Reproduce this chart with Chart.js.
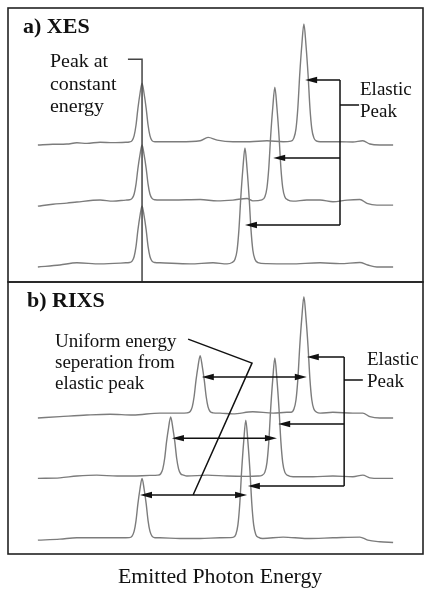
<!DOCTYPE html>
<html><head><meta charset="utf-8">
<script src="https://cdn.jsdelivr.net/npm/chart.js@4.4.1/dist/chart.umd.min.js"></script>
<style>
html,body{margin:0;padding:0;background:#fff;}
#wrap{position:relative;width:430px;height:590px;overflow:hidden;font-family:"Liberation Serif","Times New Roman",serif;color:#111;}
#wrap canvas{position:absolute;left:0;}
.t{position:absolute;white-space:nowrap;transform-origin:0 0;}
</style></head><body>
<div id="wrap">
<canvas id="cA" width="430" height="290" style="top:0px"></canvas>
<canvas id="cB" width="430" height="315" style="top:275px"></canvas>
<div class="t" style="left:23px;top:14.6px;font-size:22px;line-height:22px;font-weight:bold">a) XES</div>
<div class="t" style="left:50px;top:50.3px;font-size:19px;line-height:22.5px;transform:scaleX(1.05)">Peak at<br>constant<br>energy</div>
<div class="t" style="left:360px;top:77.6px;font-size:19px;line-height:22px">Elastic<br>Peak</div>
<div class="t" style="left:27px;top:288.6px;font-size:22px;line-height:22px;font-weight:bold">b) RIXS</div>
<div class="t" style="left:55px;top:330.1px;font-size:19px;line-height:21px">Uniform energy<br>seperation from<br>elastic peak</div>
<div class="t" style="left:367px;top:347.8px;font-size:19px;line-height:22.5px">Elastic<br>Peak</div>
<div class="t" style="left:118px;top:566px;font-size:20px;line-height:20px;transform:scaleX(1.09)">Emitted Photon Energy</div>
</div>
<script>
// ---- Panel a) XES : three stacked spectra (energy in arb. units, intensity in arb. units)
const energyA1 = [7.2,10.8,14.2,16.6,19.0,22.2,25.3,28.4, 29.2,29.9,30.4,30.85,31.3,31.8,32.3,32.8,33.3,33.75,34.2,34.7,35.4, 36.6,41.4,46.3,48.2,50.4,54.2,58.3,62.4,66.3, 68.2,68.9,69.4,69.85,70.3,70.8,71.3,71.8,72.3,72.75,73.2,73.7,74.4, 75.2,80.0,83.1,85.5,87.2,89.6,92.8];
const intensityA1 = [0,0.25,0.35,0.8,0.6,1.0,0.85,1.0, 1.1,1.6,3.4,7.3,13.3,18.7,22.6,18.7,13.3,7.3,3.4,1.6,1.2, 1.2,1.2,1.55,2.8,1.8,1.2,1.2,1.55,1.2, 1.4,2.6,6.0,13.7,25.8,36.5,44.2,36.5,25.8,13.7,6.0,2.6,1.4, 1.2,1.2,1.1,1.55,0.35,0,0];
const energyA2 = [7.2,10.8,14.2,16.6,22.2,25.3,28.4, 29.2,29.9,30.4,30.85,31.3,31.8,32.3,32.8,33.3,33.75,34.2,34.7,35.4, 36.6,39.8,46.3,50.4,54.2,57.6,59.0, 61.2,61.9,62.4,62.85,63.3,63.8,64.3,64.8,65.3,65.75,66.2,66.7,67.4, 68.7,72.0,75.2,78.3,81.7,84.8,86.5,88.9,92.8];
const intensityA2 = [0,0.7,1.1,1.5,2.2,1.8,2.2, 2.3,2.8,4.4,8.0,13.7,18.7,22.3,18.7,13.7,8.0,4.4,2.8,2.3, 2.2,2.2,2.4,1.9,2.2,2.8,1.9, 2.3,3.4,6.7,14.1,25.7,36.0,43.4,36.0,25.7,14.1,6.7,3.4,2.3, 1.8,2.2,2.2,1.6,2.2,2.4,1.0,0.35,0.35];
const energyA3 = [7.2,12.5,16.6,22.2,28.4, 29.2,29.9,30.4,30.85,31.3,31.8,32.3,32.8,33.3,33.75,34.2,34.7,35.4, 36.6,43.9,49.4,52.8, 54.0,54.7,55.2,55.65,56.1,56.6,57.1,57.6,58.1,58.55,59.0,59.5,60.2, 62.4,68.0,75.2,80.0,84.8,86.7,88.9,92.8];
const intensityA3 = [0,0.7,1.5,1.1,1.5, 1.6,2.1,3.8,7.5,13.4,18.6,22.3,18.6,13.4,7.5,3.8,2.1,1.6, 1.5,1.1,1.5,1.1, 1.6,2.8,6.1,13.7,25.4,35.9,43.4,35.9,25.4,13.7,6.1,2.8,1.6, 1.2,1.1,1.5,1.2,1.6,0.7,0,0];
const stackOffsetsA = [50.0, 27.7, 5.5];

// ---- Panel b) RIXS
const energyB1 = [7.2,12.5,19.0,24.6,30.1,36.6,41.4, 43.2,43.9,44.4,44.85,45.3,45.8,46.3,46.8,47.3,47.75,48.2,48.7,49.4, 51.1,54.2,59.0,63.9,67.2, 68.2,68.9,69.4,69.85,70.3,70.8,71.3,71.8,72.3,72.75,73.2,73.7,74.4, 75.2,78.3,83.1,85.5,87.2,89.6,92.8];
const intensityB1 = [0,0.5,1.1,1.4,1.1,1.8,1.8, 1.9,2.4,4.1,7.9,13.8,19.1,22.9,19.1,13.8,7.9,4.1,2.4,1.9, 1.8,1.5,2.3,1.8,2.1, 2.1,3.3,6.7,14.4,26.3,36.9,44.6,36.9,26.3,14.4,6.7,3.3,2.1, 1.8,2.1,1.8,1.8,0.5,0,0];
const energyB2 = [7.2,12.5,16.6,21.4,26.3,30.1,34.2, 36.1,36.8,37.3,37.75,38.2,38.7,39.2,39.7,40.2,40.65,41.1,41.6,42.3, 43.1,48.0,52.8,57.6,60.2, 61.2,61.9,62.4,62.85,63.3,63.8,64.3,64.8,65.3,65.75,66.2,66.7,67.4, 68.7,73.5,78.3,83.1,85.5,87.2,89.6,92.8];
const intensityB2 = [0,0.2,0.85,1.2,0.85,0.85,1.1, 1.2,1.7,3.5,7.3,13.4,18.7,22.6,18.7,13.4,7.3,3.5,1.7,1.2, 0.85,1.2,0.85,0.75,0.85, 1.1,2.3,5.8,13.6,25.7,36.5,44.3,36.5,25.7,13.6,5.8,2.3,1.1, 0.6,0.6,0.85,0.6,1.2,0.2,0,0];
const energyB3 = [7.2,12.5,16.6,22.2,28.4, 29.2,29.9,30.4,30.85,31.3,31.8,32.3,32.8,33.3,33.75,34.2,34.7,35.4, 36.6,41.4,46.3,51.1, 54.2,54.9,55.4,55.85,56.3,56.8,57.3,57.8,58.3,58.75,59.2,59.7,60.4, 61.4,66.3,72.0,78.3,84.8,86.7,89.6,92.8];
const intensityB3 = [0,0.35,0.85,0.85,0.85, 0.9,1.5,3.3,7.2,13.3,18.8,22.7,18.8,13.3,7.2,3.3,1.5,0.9, 0.85,0.6,0.6,0.85, 1.0,2.1,5.6,13.4,25.5,36.3,44.1,36.3,25.5,13.4,5.6,2.1,1.0, 0.6,1.1,0.6,0.85,1.1,0,-0.6,-0.85];
const stackOffsetsB = [50.0, 27.8, 5.1];

// ---- annotation anchors (data units)
const constantPeakEnergy = 32.3;
const constantLeader = {fromX: 28.9, y: 81.3};
const elasticBracketA = {x: 80.0, tickY: 64.6, tickToX: 84.6};
const elasticArrowsA = [[71.6, 73.7], [63.9, 45.3], [57.1, 20.8]];   // [tip energy, level]
const elasticBracketB = {x: 81.0, tickY: 64.0, tickToX: 85.5};
const elasticArrowsB = [[72.0, 72.4], [65.1, 47.8], [57.8, 25.0]];
const separationArrowsB = [[46.7, 72.0, 65.1], [39.5, 64.8, 42.6], [31.8, 57.6, 21.7]]; // [from, to, level]
const separationPointer = [[43.4, 79.0], [58.8, 70.2], [44.6, 21.7]];

const traceColor = '#7c7c7c';

function makeSets(energies, intensities, offsets){
  return energies.map((e, i) => ({
    data: e.map((x, k) => ({x, y: offsets[i] + intensities[i][k]})),
    borderColor: traceColor, borderWidth: 1.4, pointRadius: 0,
    cubicInterpolationMode: 'monotone', fill: false
  }));
}

function arrowHead(ctx, x, y, dir){
  const len = 12, hw = 3.2;
  ctx.beginPath();
  ctx.moveTo(x, y);
  ctx.lineTo(x - dir*len, y - hw);
  ctx.lineTo(x - dir*len, y + hw);
  ctx.closePath();
  ctx.fill();
}

const framePlugin = {
  id: 'frame',
  afterDraw(chart){
    const {ctx, chartArea: a} = chart;
    ctx.save();
    ctx.strokeStyle = '#222'; ctx.lineWidth = 1.6;
    ctx.strokeRect(a.left, a.top, a.right - a.left, a.bottom - a.top);
    ctx.restore();
  }
};

function bracket(ctx, px, py, br, arrows){
  ctx.beginPath();
  ctx.moveTo(px(br.x), py(arrows[0][1]));
  ctx.lineTo(px(br.x), py(arrows[arrows.length-1][1]));
  ctx.moveTo(px(br.x), py(br.tickY));
  ctx.lineTo(px(br.tickToX), py(br.tickY));
  arrows.forEach(([tx, ly]) => { ctx.moveTo(px(br.x), py(ly)); ctx.lineTo(px(tx) + 4, py(ly)); });
  ctx.stroke();
  arrows.forEach(([tx, ly]) => arrowHead(ctx, px(tx), py(ly), -1));
}

const annotateA = {
  id: 'annotateA',
  afterDatasetsDraw(chart){
    const {ctx, scales: {x, y}} = chart;
    const px = v => x.getPixelForValue(v), py = v => y.getPixelForValue(v);
    ctx.save();
    ctx.strokeStyle = '#444'; ctx.lineWidth = 1.5;
    ctx.beginPath();
    ctx.moveTo(px(constantLeader.fromX), py(constantLeader.y));
    ctx.lineTo(px(constantPeakEnergy), py(constantLeader.y));
    ctx.lineTo(px(constantPeakEnergy), py(0));
    ctx.stroke();
    ctx.strokeStyle = '#111'; ctx.fillStyle = '#111'; ctx.lineWidth = 1.5;
    bracket(ctx, px, py, elasticBracketA, elasticArrowsA);
    ctx.restore();
  }
};

const annotateB = {
  id: 'annotateB',
  afterDatasetsDraw(chart){
    const {ctx, scales: {x, y}} = chart;
    const px = v => x.getPixelForValue(v), py = v => y.getPixelForValue(v);
    ctx.save();
    ctx.strokeStyle = '#111'; ctx.fillStyle = '#111'; ctx.lineWidth = 1.5;
    ctx.beginPath();
    separationArrowsB.forEach(([a, b, l]) => { ctx.moveTo(px(a) + 4, py(l)); ctx.lineTo(px(b) - 4, py(l)); });
    separationPointer.forEach(([e, l], i) => i ? ctx.lineTo(px(e), py(l)) : ctx.moveTo(px(e), py(l)));
    ctx.stroke();
    separationArrowsB.forEach(([a, b, l]) => { arrowHead(ctx, px(a), py(l), -1); arrowHead(ctx, px(b), py(l), 1); });
    bracket(ctx, px, py, elasticBracketB, elasticArrowsB);
    ctx.restore();
  }
};

function panel(id, datasets, padding, plugin){
  return new Chart(document.getElementById(id), {
    type: 'line',
    data: {datasets},
    options: {
      responsive: false, animation: false, events: [],
      layout: {padding},
      scales: {
        x: {type: 'linear', min: 0, max: 100, display: false},
        y: {type: 'linear', min: 0, max: 100, display: false}
      },
      plugins: {legend: {display: false}, tooltip: {enabled: false}, title: {display: false}}
    },
    plugins: [plugin, framePlugin]
  });
}

panel('cA', makeSets([energyA1, energyA2, energyA3], [intensityA1, intensityA2, intensityA3], stackOffsetsA),
      {left: 8, right: 7, top: 8, bottom: 8}, annotateA);
panel('cB', makeSets([energyB1, energyB2, energyB3], [intensityB1, intensityB2, intensityB3], stackOffsetsB),
      {left: 8, right: 7, top: 7, bottom: 36}, annotateB);
</script>
</body></html>
